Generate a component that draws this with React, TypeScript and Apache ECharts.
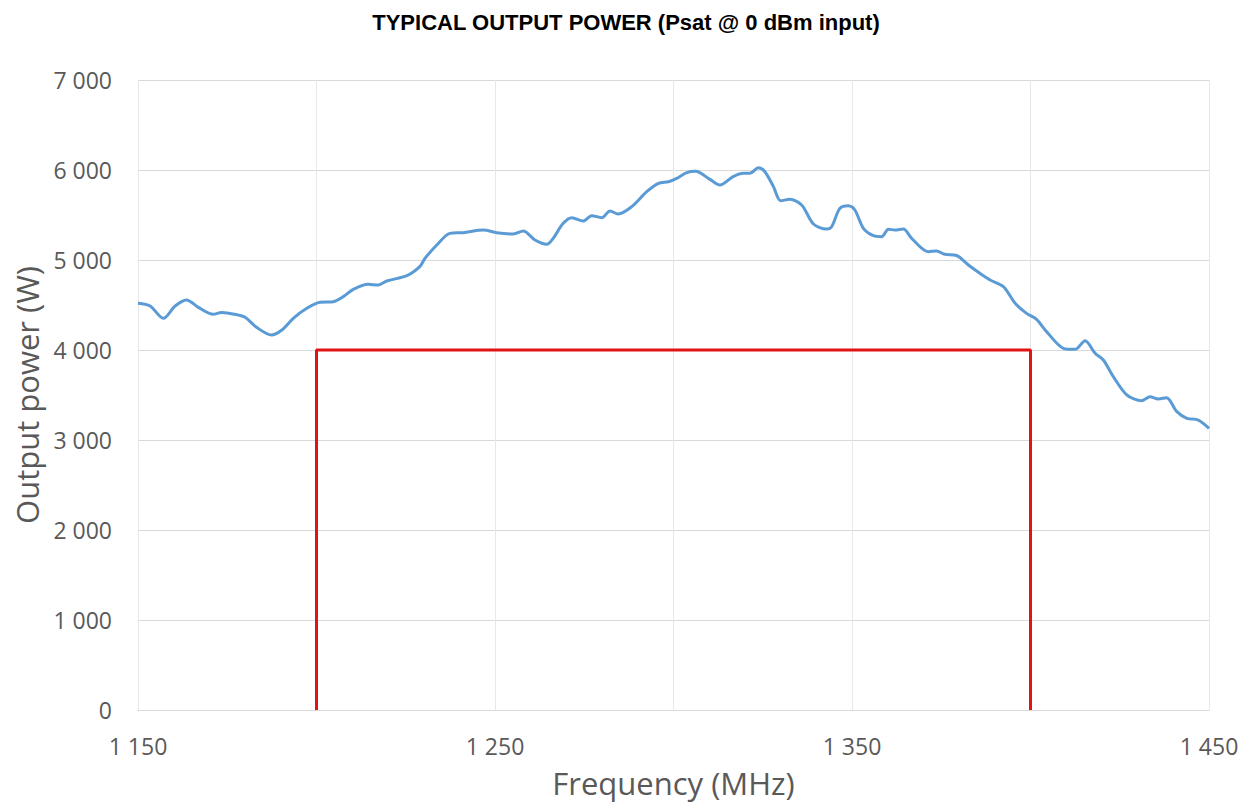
import React, { useEffect, useRef } from "react";
import * as echarts from "echarts";

const TITLE = "TYPICAL OUTPUT POWER (Psat @ 0 dBm input)";
const X_NAME = "Frequency (MHz)";
const Y_NAME = "Output power (W)";

const freqs = [
  1150, 1153.4, 1157.1, 1160.4, 1163.6, 1166.9, 1171.1, 1173.4, 1177.6, 1180,
  1183.2, 1187.4, 1190.3, 1193.5, 1197.3, 1201, 1204.7, 1207.5, 1210.3, 1214.5,
  1217.3, 1219.7, 1225.3, 1229, 1230.4, 1233.7, 1237.4, 1241.1, 1246.7, 1250.5,
  1255.1, 1257.9, 1261.2, 1264.5, 1266.3, 1269.1, 1271.5, 1274.7, 1277.1, 1279.9,
  1282.2, 1284.5, 1288.3, 1292.5, 1295.8, 1298.6, 1300.9, 1303.7, 1306.2, 1310.2,
  1313, 1316.7, 1319.6, 1321.4, 1323.8, 1325.6, 1328, 1330, 1332.6, 1335.9,
  1339.2, 1342.9, 1344.3, 1346.6, 1349, 1350.8, 1353.2, 1356, 1358.3, 1360.2,
  1362, 1364.4, 1366.7, 1371.4, 1373.7, 1376, 1379.3, 1382.6, 1385.9, 1388.7,
  1392.4, 1395.7, 1398.9, 1401.7, 1404.5, 1409.2, 1412.5, 1415.3, 1418.1, 1420.4,
  1423.2, 1427, 1431.1, 1433.5, 1435.8, 1438.1, 1441, 1443.8, 1447, 1450,
];

const power = [
  4519, 4489, 4352, 4489, 4556, 4474, 4396, 4418, 4393, 4363,
  4252, 4167, 4222, 4352, 4463, 4530, 4537, 4593, 4674, 4730,
  4722, 4767, 4826, 4930, 5019, 5167, 5296, 5304, 5333, 5304,
  5289, 5322, 5222, 5174, 5241, 5407, 5470, 5433, 5493, 5470,
  5544, 5511, 5593, 5759, 5852, 5870, 5907, 5970, 5985, 5896,
  5833, 5926, 5963, 5963, 6026, 5981, 5815, 5659, 5674, 5611,
  5400, 5344, 5370, 5574, 5604, 5556, 5352, 5270, 5259, 5341,
  5333, 5344, 5241, 5093, 5100, 5063, 5050, 4944, 4850, 4778,
  4704, 4519, 4407, 4341, 4204, 4019, 4007, 4104, 3963, 3889,
  3704, 3500, 3437, 3481, 3456, 3470, 3315, 3241, 3222, 3130,
];

const bandFreqs = [1200, 1200, 1400, 1400];
const bandPower = [0, 4000, 4000, 0];

const xLabeled = [1150, 1250, 1350, 1450];

function fmt(v: number): string {
  if (v < 1000) return String(v);
  const th = Math.floor(v / 1000);
  const rest = String(v % 1000).padStart(3, "0");
  return th + " " + rest;
}

export default function App() {
  const ref = useRef<HTMLDivElement>(null);
  useEffect(() => {
    document.body.style.margin = "0";
    if (!ref.current) return;
    const chart = echarts.init(ref.current, null, { renderer: "svg" });
    const labelFont = "'Open Sans', 'Liberation Sans', sans-serif";
    chart.setOption({
      animation: false,
      backgroundColor: "#ffffff",
      title: {
        text: TITLE,
        left: "center",
        top: 6,
        textStyle: {
          fontFamily: "'Liberation Sans', Arial, sans-serif",
          fontWeight: "bold",
          fontSize: 22,
          color: "#000000",
        },
      },
      grid: { left: 138, right: 43, top: 80, bottom: 102, containLabel: false },
      xAxis: {
        type: "value",
        min: 1150,
        max: 1450,
        interval: 50,
        name: X_NAME,
        nameLocation: "middle",
        nameGap: 57,
        nameTextStyle: { fontFamily: labelFont, fontSize: 31, color: "#595959" },
        axisLine: { show: true, lineStyle: { color: "#D9D9D9", width: 1 } },
        axisTick: { show: false },
        axisLabel: {
          margin: 24,
          fontFamily: labelFont,
          fontSize: 23,
          color: "#595959",
          formatter: (v: number) => (xLabeled.indexOf(v) >= 0 ? fmt(v) : ""),
        },
        splitLine: { show: true, lineStyle: { color: "#E8E8E8", width: 1 } },
      },
      yAxis: {
        type: "value",
        min: 0,
        max: 7000,
        interval: 1000,
        name: Y_NAME,
        nameLocation: "middle",
        nameGap: 94,
        nameTextStyle: { fontFamily: labelFont, fontSize: 31, color: "#595959" },
        axisLine: { show: false },
        axisTick: { show: false },
        axisLabel: {
          margin: 26,
          fontFamily: labelFont,
          fontSize: 23,
          color: "#595959",
          formatter: (v: number) => fmt(v),
        },
        splitLine: { show: true, lineStyle: { color: "#D9D9D9", width: 1 } },
      },
      series: [
        {
          type: "line",
          name: "Output power",
          data: freqs.map((f, i) => [f, power[i]]),
          showSymbol: false,
          smooth: 0.3,
          lineStyle: { color: "#5B9BD5", width: 3 },
          z: 3,
        },
        {
          type: "line",
          name: "Band",
          data: bandFreqs.map((f, i) => [f, bandPower[i]]),
          showSymbol: false,
          lineStyle: { color: "#E01414", width: 3 },
          z: 2,
        },
      ],
    });
    return () => chart.dispose();
  }, []);
  return <div ref={ref} style={{ width: 1252, height: 812 }} />;
}
